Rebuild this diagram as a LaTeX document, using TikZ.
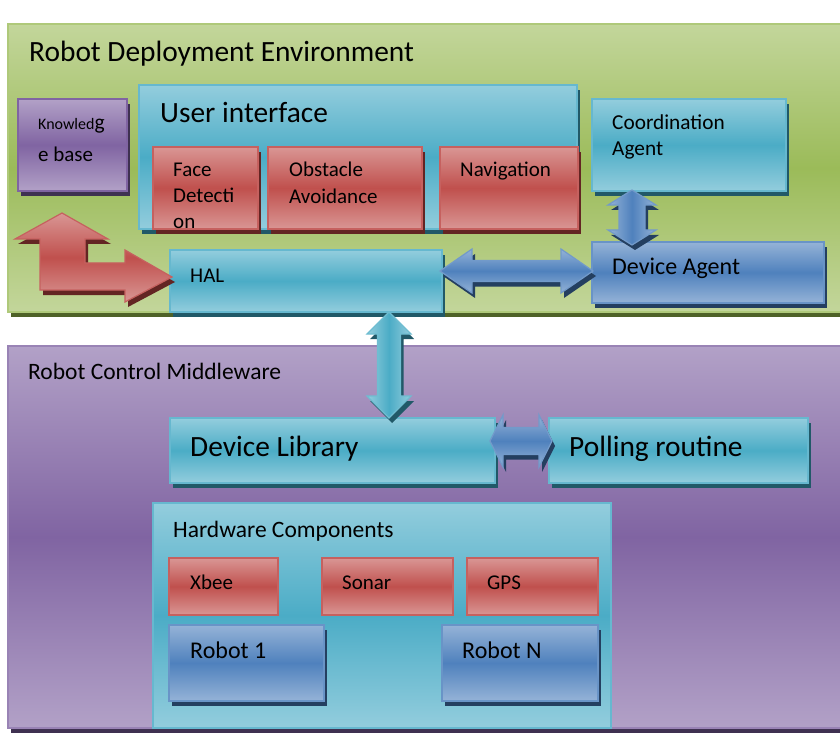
\documentclass[tikz,border=0pt]{standalone}
\usepackage{fontspec}
\setmainfont{Carlito}
\usetikzlibrary{fit,shadows}
\definecolor{grL}{HTML}{C3D69B}\definecolor{grM}{HTML}{9BBB59}\definecolor{grS}{HTML}{4F6228}
\definecolor{aqL}{HTML}{93CDDD}\definecolor{aqM}{HTML}{4BACC6}\definecolor{aqS}{HTML}{215968}
\definecolor{rdL}{HTML}{D99694}\definecolor{rdM}{HTML}{C0504D}\definecolor{rdS}{HTML}{632523}
\definecolor{dbL}{HTML}{95B3D7}\definecolor{dbM}{HTML}{4F81BD}\definecolor{dbS}{HTML}{243F60}
\definecolor{puL}{HTML}{B2A1C7}\definecolor{puM}{HTML}{8064A2}\definecolor{puS}{HTML}{3F3151}
\newcommand\harrow[7]{\path[#7] (#1,#3) -- ({#1+#4},{#3-#5}) -- ({#1+#4},{#3-#6}) -- ({#2-#4},{#3-#6}) -- ({#2-#4},{#3-#5}) -- (#2,#3) -- ({#2-#4},{#3+#5}) -- ({#2-#4},{#3+#6}) -- ({#1+#4},{#3+#6}) -- ({#1+#4},{#3+#5}) -- cycle;}
\newcommand\varrow[7]{\path[#7] (#3,#1) -- ({#3+#5},{#1+#4}) -- ({#3+#6},{#1+#4}) -- ({#3+#6},{#2-#4}) -- ({#3+#5},{#2-#4}) -- (#3,#2) -- ({#3-#5},{#2-#4}) -- ({#3-#6},{#2-#4}) -- ({#3-#6},{#1+#4}) -- ({#3-#5},{#1+#4}) -- cycle;}
\tikzset{
  x=1pt, y=-1pt,
  shad/.style={general shadow={fill=#1, shadow xshift=3pt, shadow yshift=-5pt}},
  vgrad/.style n args={2}{top color=#1, bottom color=#1, middle color=#2},
  hgrad/.style n args={2}{left color=#1, right color=#1, middle color=#2},
  greenbox/.style={shad=grS, vgrad={grL}{grM}, draw=grM!80!white, line width=1.5pt, inner sep=0pt},
  purplebox/.style={shad=puS, vgrad={puL}{puM}, draw=puM!80!white, line width=1.5pt, inner sep=0pt},
  aquabox/.style={shad=aqS, vgrad={aqL}{aqM}, draw=aqM!85!white, line width=1.5pt, inner sep=0pt},
  aquaflat/.style={vgrad={aqL}{aqM}, draw=aqM!85!white, line width=1.5pt, inner sep=0pt},
  redbox/.style={shad=rdS, vgrad={rdL}{rdM}, draw=rdM!90!white, line width=1.5pt, inner sep=0pt},
  redflat/.style={vgrad={rdL}{rdM}, draw=rdM!90!white, line width=1.5pt, inner sep=0pt},
  bluebox/.style={shad=dbS, vgrad={dbL}{dbM}, draw=dbM!85!white, line width=1.5pt, inner sep=0pt},
  kbox/.style={shad=puS, vgrad={puL}{puM}, draw=puM, line width=1.5pt, inner sep=0pt},
  txt/.style={inner sep=0pt, anchor=base west, text=black},
  f29/.style={txt, font=\fontsize{29.4}{31}\selectfont},
  f24/.style={txt, font=\fontsize{24}{26}\selectfont},
  f23/.style={txt, font=\fontsize{23.5}{26}\selectfont},
  f21/.style={txt, font=\fontsize{21}{24}\selectfont},
}
\begin{document}
\begin{tikzpicture}
\useasboundingbox (0,0) rectangle (840,735);
\clip (0,0) rectangle (840,735);
\fill[white] (0,0) rectangle (840,735);

% ---------- Robot Deployment Environment ----------
\node[greenbox, fit={(8,24) (852,312)}] (rde) {};
\node[f29] (rdet) at (29,62) {Robot Deployment Environment};

\node[kbox, fit={(18,99) (127,191)}] (kb) {};
\node[txt, font=\fontsize{16}{18}\selectfont] (kbt1) at (38,130) {Knowled\fontsize{21.5}{24}\selectfont g};
\node[f21] (kbt2) at (38,162) {e base};

\node[aquabox, fit={(139,85) (577,229)}] (ui) {};
\node[f29] (uit) at (160,123) {User interface};

\node[redbox, fit={(153,147) (258,229)}] (face) {};
\node[f21] (facet1) at (173,177) {Face};
\node[f21] (facet2) at (173,203) {Detecti};
\node[f21] (facet3) at (173,229) {on};

\node[redbox, fit={(268,147) (422,229)}] (obs) {};
\node[f21] (obst1) at (289,177) {Obstacle};
\node[f21] (obst2) at (289,204) {Avoidance};

\node[redbox, fit={(440,147) (578,229)}] (nav) {};
\node[f21] (navt) at (460,177) {Navigation};

\node[aquabox, fit={(592,99) (786,191)}] (coord) {};
\node[txt, font=\fontsize{21.3}{24}\selectfont] (coordt1) at (612,130) {Coordination};
\node[txt, font=\fontsize{21.3}{24}\selectfont] (coordt2) at (612,156) {Agent};

\node[bluebox, fit={(592,242) (824,303)}] (da) {};
\node[f24] (dat) at (612,275) {Device Agent};

\node[aquabox, fit={(170,250) (442,312)}] (hal) {};
\node[f21] (halt) at (190,282) {HAL};

% red elbow arrow (Knowledge base <-> HAL)
\path[shad=rdS, vgrad={rdL}{rdM}, draw=rdM!90!white, line width=1.2pt]
  (62,213) -- (108,239) -- (85,239) -- (85,263) -- (125,263) -- (125,250) -- (172,277)
  -- (125,302) -- (125,290) -- (40,290) -- (40,239) -- (15,239) -- cycle;

% HAL <-> Device Agent
\harrow{440}{593}{271}{32}{22}{10.5}{shad=dbS, vgrad={dbL}{dbM}, draw=dbM!80!white, line width=1.2pt}
% Coordination Agent <-> Device Agent
\varrow{190}{245}{632}{15}{24}{13}{shad=dbS, hgrad={dbL}{dbM}, draw=dbM!80!white, line width=1.2pt}

% ---------- Robot Control Middleware ----------
\node[purplebox, fit={(8,346) (852,728)}] (rcm) {};
\node[f23] (rcmt) at (28,379) {Robot Control Middleware};

\node[aquabox, fit={(170,418) (495,483)}] (dl) {};
\node[f29] (dlt) at (190,456) {Device Library};

\node[aquabox, fit={(549,418) (808,483)}] (pr) {};
\node[f29] (prt) at (569,456) {Polling routine};

\node[aquaflat, fit={(153,503) (611,728)}] (hw) {};
\node[f23] (hwt) at (173,537) {Hardware Components};

\node[redflat, fit={(169,558) (278,615)}] (xbee) {};
\node[f21] (xbeet) at (190,589) {Xbee};
\node[redflat, fit={(322,558) (453,615)}] (sonar) {};
\node[f21] (sonart) at (342,589) {Sonar};
\node[redflat, fit={(467,558) (598,615)}] (gps) {};
\node[f21] (gpst) at (487,589) {GPS};

\node[bluebox, fit={(169,625) (324,701)}] (r1) {};
\node[f24] (r1t) at (190,658) {Robot 1};
\node[bluebox, fit={(442,625) (598,701)}] (rn) {};
\node[f24] (rnt) at (462,658) {Robot N};

% HAL <-> Device Library
\varrow{312}{418}{389}{22}{22}{11.5}{shad=aqS, hgrad={aqL}{aqM}, draw=aqM!80!white, line width=1.2pt}
% Device Library <-> Polling routine
\harrow{490}{552}{441}{13}{26}{13.5}{shad=dbS, vgrad={dbL}{dbM}, draw=dbM!80!white, line width=1.2pt}
\end{tikzpicture}
\end{document}
